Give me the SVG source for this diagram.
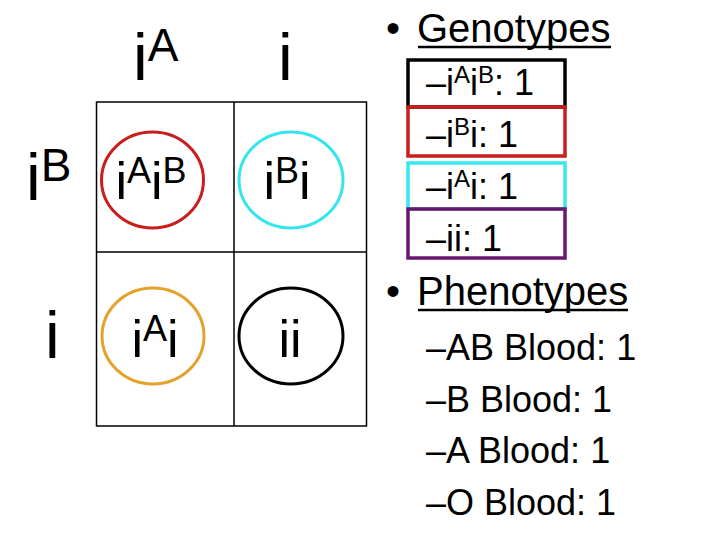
<svg xmlns="http://www.w3.org/2000/svg" width="720" height="540" viewBox="0 0 720 540">
<style>
text{font-family:"Liberation Sans",Arial,sans-serif;fill:#000}
.hdr{font-size:66px}
.cell{font-size:52px}
.sub{font-size:36px}
.bul{font-size:40px}
.grid{stroke:#000;stroke-width:1.5;fill:none}
.circ{fill:none;stroke-width:3}
.box{fill:none;stroke-width:3.5}
</style>
<rect width="720" height="540" fill="#fff"/>
<g id="grid">
<rect class="grid" x="96.5" y="102" width="270" height="324"/>
<line class="grid" x1="234" y1="102" x2="234" y2="426"/>
<line class="grid" x1="96.5" y1="252" x2="366.5" y2="252"/>
</g>
<g id="col-iA"><text class="hdr" x="133" y="80">i<tspan font-size="46" dy="-19">A</tspan></text></g>
<g id="col-i"><text class="hdr" x="278" y="80">i</text></g>
<g id="row-iB"><text class="hdr" x="26" y="200">i<tspan font-size="46" dy="-19">B</tspan></text></g>
<g id="row-i"><text class="hdr" x="45" y="358">i</text></g>
<g id="cell-iAiB">
<ellipse class="circ" cx="152.5" cy="180" rx="51" ry="48" stroke="#c81e1e"/>
<text class="cell" x="151" y="199" text-anchor="middle">i<tspan font-size="36" dy="-16">A</tspan><tspan dy="16">i</tspan><tspan font-size="36" dy="-16">B</tspan></text>
</g>
<g id="cell-iBi">
<ellipse class="circ" cx="291" cy="180" rx="52" ry="48" stroke="#36e4ee"/>
<text class="cell" x="287" y="199" text-anchor="middle">i<tspan font-size="36" dy="-16">B</tspan><tspan dy="16">i</tspan></text>
</g>
<g id="cell-iAi">
<ellipse class="circ" cx="153" cy="336" rx="51" ry="48" stroke="#e4a12c"/>
<text class="cell" x="155" y="357" text-anchor="middle">i<tspan font-size="36" dy="-16">A</tspan><tspan dy="16">i</tspan></text>
</g>
<g id="cell-ii">
<ellipse class="circ" cx="291" cy="336" rx="52" ry="48" stroke="#000"/>
<text class="cell" x="290" y="357" text-anchor="middle">ii</text>
</g>
<g id="genotypes">
<text class="bul" x="386" y="42">•</text>
<text class="bul" x="417" y="42">Genotypes</text>
<line x1="418" y1="47" x2="611" y2="47" stroke="#000" stroke-width="2.5"/>
<rect class="box" x="408" y="60" width="157" height="47" stroke="#000"/>
<rect class="box" x="408" y="107" width="157" height="49" stroke="#c81e1e"/>
<rect class="box" x="408" y="163" width="157" height="46" stroke="#36e8f0"/>
<rect class="box" x="408" y="209" width="157" height="49" stroke="#6a1670"/>
<text class="sub" x="426" y="95">–i<tspan font-size="24" dy="-12">A</tspan><tspan dy="12">i</tspan><tspan font-size="24" dy="-12">B</tspan><tspan dy="12">: 1</tspan></text>
<text class="sub" x="426" y="147">–i<tspan font-size="24" dy="-12">B</tspan><tspan dy="12">i: 1</tspan></text>
<text class="sub" x="426" y="199">–i<tspan font-size="24" dy="-12">A</tspan><tspan dy="12">i: 1</tspan></text>
<text class="sub" x="426" y="251">–ii: 1</text>
</g>
<g id="phenotypes">
<text class="bul" x="386" y="305">•</text>
<text class="bul" x="417" y="305">Phenotypes</text>
<line x1="418" y1="310" x2="628" y2="310" stroke="#000" stroke-width="2.5"/>
<text class="sub" x="426" y="360">–AB Blood: 1</text>
<text class="sub" x="426" y="412">–B Blood: 1</text>
<text class="sub" x="426" y="463">–A Blood: 1</text>
<text class="sub" x="426" y="515">–O Blood: 1</text>
</g>
</svg>
